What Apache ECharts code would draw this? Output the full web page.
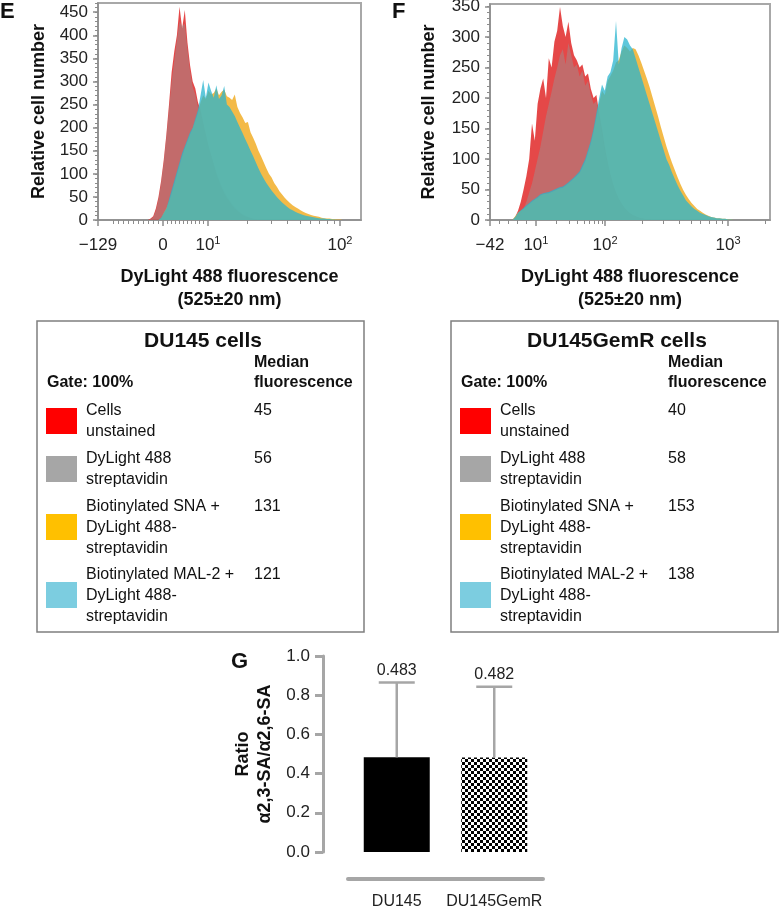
<!DOCTYPE html>
<html><head><meta charset="utf-8">
<script src="https://cdn.jsdelivr.net/npm/echarts@6/dist/echarts.min.js"></script>
<style>html,body{margin:0;padding:0;background:#fff}#c{width:779px;height:907px}</style>
</head><body><div id="c"></div>
<script>
// ---------- DATA ----------
// Histogram bins are display channels (0-100 across each plot's x range)
const eTickPos = [0, 24.7, 41.8, 92.0];
const eTickText = ['−129', '0', '10^1', '10^2'];
const fTickPos = [0, 16.4, 41.1, 85.0];
const fTickText = ['−42', '10^1', '10^2', '10^3'];
const eYTicks = [0, 50, 100, 150, 200, 250, 300, 350, 400, 450];
const fYTicks = [0, 50, 100, 150, 200, 250, 300, 350];

// DU145 (panel E)
const eRedStart = 20;
const eRed = [3,8,25,50,85,130,185,250,320,365,400,462,415,455,385,335,300,285,255,238,210,185,160,140,120,100,85,70,58,48,40,32,25,20,15,11,8,6,4,2,1];
const eGrayStart = 20;
const eGray = [2,6,20,45,80,125,180,240,300,345,390,430,420,425,370,322,288,272,245,228,205,182,160,142,122,104,88,74,62,52,43,35,28,22,17,13,10,7,5,3,2,1];
const eOrangeStart = 24;
const eOrange = [3,15,25,40,58,78,98,118,138,155,170,185,198,215,232,255,270,262,280,272,275,285,270,278,282,268,265,260,272,245,232,222,210,212,190,178,165,150,138,125,112,100,92,80,72,62,55,48,42,37,32,28,25,21,18,15,13,11,9,8,7,5,4,3,3,2,2,1,1];
const eCyanStart = 24;
const eCyan = [5,15,25,45,65,85,105,125,145,160,175,190,200,220,238,270,303,265,298,280,265,292,262,270,290,250,245,235,225,212,200,188,175,163,150,138,125,112,100,90,80,72,64,57,50,44,38,33,28,24,21,18,15,13,11,9,8,7,6,5,4,3,3,2,2,1,1];

// DU145GemR (panel F)
const fRedStart = 9;
const fRed = [5,15,30,50,72,100,158,130,190,215,232,200,265,250,292,310,349,318,300,325,290,270,262,250,255,235,240,215,200,205,175,150,120,95,75,58,45,35,27,20,15,11,8,6,4,3,2,1,1];
const fGrayStart = 11;
const fGray = [8,18,30,45,60,80,100,120,145,170,190,210,232,250,270,280,255,290,270,250,255,235,245,220,228,205,190,195,165,140,112,90,72,56,44,34,26,20,15,11,8,6,4,3,2,1];
const fOrangeStart = 9;
const fOrange = [6,12,15,18,22,26,30,33,36,40,42,43,44,46,48,50,52,53,56,60,64,68,72,77,86,96,110,125,145,168,192,212,205,228,236,245,258,262,276,286,282,276,282,280,270,258,245,232,218,202,186,170,153,137,121,107,94,82,70,59,49,41,34,28,23,18,15,12,9,7,5,4,3,3,2,2,1,1];
const fCyanStart = 9;
const fCyan = [5,12,16,20,24,28,32,35,38,42,44,45,46,48,50,52,54,55,58,62,66,70,75,80,90,100,115,130,150,175,200,222,212,235,242,262,326,255,282,300,296,286,280,265,250,235,220,205,190,175,160,145,130,115,100,90,78,67,57,48,40,32,27,22,18,15,12,10,8,6,5,4,3,3,2,2,1,1];

// Legend tables
const legendLabels = [['Cells','unstained'], ['DyLight 488','streptavidin'], ['Biotinylated SNA +','DyLight 488-','streptavidin'], ['Biotinylated MAL-2 +','DyLight 488-','streptavidin']];
const mediansE = [45, 56, 131, 121];
const mediansF = [40, 58, 153, 138];

// Panel G
const categoriesG = ['DU145', 'DU145GemR'];
const ratioMeans = [0.483, 0.482];
const ratioErr = [0.382, 0.361];

// ---------- STYLE ----------
const FONT = '"Liberation Sans", Arial, Helvetica, sans-serif';
const swatchColors = ['#ff0000', '#a6a6a6', '#ffc000', '#7ccde0'];
const histColors = {
  red: 'rgba(225,40,40,0.85)',
  gray: 'rgba(150,150,150,0.45)',
  orange: 'rgba(242,178,52,0.9)',
  cyan: 'rgba(40,180,207,0.75)'
};

function hist(start, vals) {
  const d = [[start - 1, 0]];
  vals.forEach((v, i) => d.push([start + i, v]));
  d.push([start + vals.length, 0]);
  return d;
}
function tickFormatter(pos, text) {
  return function (v) {
    let best = 0;
    for (let i = 1; i < pos.length; i++) if (Math.abs(pos[i] - v) < Math.abs(pos[best] - v)) best = i;
    const t = text[best];
    if (t.indexOf('^') >= 0) { const p = t.split('^'); return '{b|' + p[0] + '}{s|' + p[1] + '}'; }
    return '{b|' + t + '}';
  };
}
const tickRich = {
  b: { fontSize: 17, fontFamily: FONT, color: '#222', lineHeight: 20 },
  s: { fontSize: 11, fontFamily: FONT, color: '#222', verticalAlign: 'top', lineHeight: 12 }
};

// minor tick positions
const eMinor = [];
for (let k = 1; k <= 10; k++) eMinor.push(eTickPos[1] - k * 1.9);
for (let k = 1; k <= 10; k++) eMinor.push(eTickPos[1] + k * 1.55);
for (let k = 2; k <= 9; k++) eMinor.push(eTickPos[2] + Math.log10(k) * (eTickPos[3] - eTickPos[2]));
const fMinor = [];
for (let k = 1; k <= 4; k++) fMinor.push(fTickPos[1] * k / 5);
for (let k = 2; k <= 9; k++) fMinor.push(fTickPos[1] + Math.log10(k) * (fTickPos[2] - fTickPos[1]));
for (let k = 2; k <= 9; k++) fMinor.push(fTickPos[2] + Math.log10(k) * (fTickPos[3] - fTickPos[2]));
fMinor.push(fTickPos[3] + Math.log10(2) * (fTickPos[3] - fTickPos[2]));
const eYMinor = []; for (let v = 0; v <= 470; v += 10) eYMinor.push(v);
const fYMinor = []; for (let v = 0; v <= 350; v += 10) fYMinor.push(v);

const axisGray = '#8c8c8c';
function histX(grid, pos, text) {
  return [
    { gridIndex: grid, type: 'value', min: 0, max: 100, position: 'bottom',
      axisLine: { onZero: false, lineStyle: { color: axisGray, width: 1.5 } },
      axisTick: { customValues: pos, length: 6, lineStyle: { color: axisGray, width: 1.5 } },
      axisLabel: { customValues: pos, formatter: tickFormatter(pos, text), rich: tickRich, margin: 15 },
      splitLine: { show: false },
      name: 'DyLight 488 fluorescence\n(525±20 nm)', nameLocation: 'middle', nameGap: 46,
      nameTextStyle: { fontFamily: FONT, fontWeight: 'bold', fontSize: 18, lineHeight: 23, color: '#111' } },
    { gridIndex: grid, type: 'value', min: 0, max: 100, position: 'bottom',
      axisLine: { show: false, onZero: false },
      axisTick: { customValues: grid === 0 ? eMinor : fMinor, length: 4, lineStyle: { color: axisGray, width: 1 } },
      axisLabel: { show: false }, splitLine: { show: false } }
  ];
}
function histY(grid, max, ticks, minor, gap) {
  return [
    { gridIndex: grid, type: 'value', min: 0, max: max, position: 'left',
      axisLine: { show: true, onZero: false, lineStyle: { color: axisGray, width: 1.5 } },
      axisTick: { show: true, customValues: ticks, length: 5, lineStyle: { color: axisGray, width: 1.5 } },
      axisLabel: { customValues: ticks, margin: 10, fontSize: 17, fontFamily: FONT, color: '#222' },
      splitLine: { show: false },
      name: 'Relative cell number', nameLocation: 'middle', nameGap: gap, nameRotate: 90,
      nameTextStyle: { fontFamily: FONT, fontWeight: 'bold', fontSize: 18, color: '#111' } },
    { gridIndex: grid, type: 'value', min: 0, max: max, position: 'left',
      axisLine: { show: false, onZero: false },
      axisTick: { show: true, customValues: minor, length: 3, lineStyle: { color: axisGray, width: 1 } },
      axisLabel: { show: false }, splitLine: { show: false } }
  ];
}
function areaSeries(xi, yi, data, color) {
  return { type: 'line', xAxisIndex: xi, yAxisIndex: yi, data: data, symbol: 'none', showSymbol: false,
    lineStyle: { width: 0 }, areaStyle: { color: color, opacity: 1 }, silent: true, animation: false };
}

// checker pattern for DU145GemR bar
const pc = document.createElement('canvas'); pc.width = 6; pc.height = 6;
const pctx = pc.getContext('2d');
pctx.fillStyle = '#fff'; pctx.fillRect(0, 0, 6, 6);
pctx.fillStyle = '#000'; pctx.fillRect(0, 0, 3, 3); pctx.fillRect(3, 3, 3, 3);

// legend graphics
function txt(x, y, text, size, bold, align) {
  return { type: 'text', x: x, y: y, style: { text: String(text), fontSize: size, fontWeight: bold ? 'bold' : 'normal', fontFamily: FONT, fill: '#111',
    align: align || 'left', verticalAlign: 'middle', textAlign: align || 'left', textVerticalAlign: 'middle' } };
}
function legendBox(x0, title, medians) {
  const y0 = 321;
  const els = [{ type: 'rect', shape: { x: x0, y: y0, width: 327, height: 311 }, style: { fill: 'none', stroke: '#7f7f7f', lineWidth: 1.5 } }];
  els.push(txt(x0 + 166, y0 + 20, title, 21, true, 'center'));
  els.push(txt(x0 + 217, y0 + 42, 'Median', 16, true));
  els.push(txt(x0 + 217, y0 + 62, 'fluorescence', 16, true));
  els.push(txt(x0 + 10, y0 + 62, 'Gate: 100%', 16, true));
  const rowY = [90, 138, 186, 254];
  const swY = [87, 135, 193, 261];
  legendLabels.forEach((lines, i) => {
    els.push({ type: 'rect', shape: { x: x0 + 9, y: y0 + swY[i], width: 31, height: 26 }, style: { fill: swatchColors[i] } });
    lines.forEach((l, j) => els.push(txt(x0 + 49, y0 + rowY[i] + j * 21, l, 16, false)));
    els.push(txt(x0 + 217, y0 + rowY[i], medians[i], 16, false));
  });
  return els;
}

const graphics = [].concat(
  [txt(0, 12, 'E', 22, true), txt(392, 12, 'F', 22, true), txt(231, 662, 'G', 22, true)],
  legendBox(37, 'DU145 cells', mediansE),
  legendBox(451, 'DU145GemR cells', mediansF)
);

const gGray = '#a6a6a6';
const option = {
  animation: false,
  backgroundColor: '#fff',
  textStyle: { fontFamily: FONT },
  grid: [
    { left: 98, top: 3, width: 263, height: 217, show: true, borderColor: '#a8a8a8', borderWidth: 2, outerBoundsMode: 'none', containLabel: false },
    { left: 490, top: 4, width: 280, height: 216, show: true, borderColor: '#a8a8a8', borderWidth: 2, outerBoundsMode: 'none', containLabel: false },
    { left: 348, top: 656, width: 195, height: 196, outerBoundsMode: 'none', containLabel: false }
  ],
  xAxis: [].concat(histX(0, eTickPos, eTickText), histX(1, fTickPos, fTickText), [
    { gridIndex: 2, type: 'category', data: categoriesG, offset: 27,
      axisLine: { onZero: false, lineStyle: { color: gGray, width: 4 } },
      axisTick: { alignWithLabel: true, length: 8, lineStyle: { color: gGray, width: 3 } },
      axisLabel: { interval: 0, fontSize: 16, fontFamily: FONT, color: '#222', margin: 15 } }
  ]),
  yAxis: [].concat(histY(0, 470, eYTicks, eYMinor, 50), histY(1, 354, fYTicks, fYMinor, 52), [
    { gridIndex: 2, type: 'value', min: 0, max: 1, interval: 0.2, offset: 25,
      axisLine: { show: true, onZero: false, lineStyle: { color: gGray, width: 3 } },
      axisTick: { show: true, length: 8, lineStyle: { color: gGray, width: 3 } },
      axisLabel: { formatter: v => v.toFixed(1), fontSize: 17, fontFamily: FONT, color: '#222', margin: 13 },
      splitLine: { show: false },
      name: 'Ratio\nα2,3-SA/α2,6-SA', nameLocation: 'middle', nameRotate: 90, nameGap: 47,
      nameTextStyle: { fontFamily: FONT, fontWeight: 'bold', fontSize: 18, lineHeight: 22, color: '#111' } }
  ]),
  series: [
    areaSeries(0, 0, hist(eRedStart, eRed), histColors.red),
    areaSeries(0, 0, hist(eGrayStart, eGray), histColors.gray),
    areaSeries(0, 0, hist(eOrangeStart, eOrange), histColors.orange),
    areaSeries(0, 0, hist(eCyanStart, eCyan), histColors.cyan),
    areaSeries(2, 2, hist(fRedStart, fRed), histColors.red),
    areaSeries(2, 2, hist(fGrayStart, fGray), histColors.gray),
    areaSeries(2, 2, hist(fOrangeStart, fOrange), histColors.orange),
    areaSeries(2, 2, hist(fCyanStart, fCyan), histColors.cyan),
    { type: 'bar', xAxisIndex: 4, yAxisIndex: 4, barWidth: 66,
      data: [ { value: ratioMeans[0], itemStyle: { color: '#000' } },
              { value: ratioMeans[1], itemStyle: { color: { image: pc, repeat: 'repeat' } } } ] },
    { type: 'custom', xAxisIndex: 4, yAxisIndex: 4, z: 5,
      data: categoriesG.map((c, i) => [i, ratioMeans[i], ratioMeans[i] + ratioErr[i]]),
      renderItem: function (params, api) {
        const m = api.coord([api.value(0), api.value(1)]);
        const t = api.coord([api.value(0), api.value(2)]);
        return { type: 'group', children: [
          { type: 'line', shape: { x1: m[0], y1: m[1], x2: t[0], y2: t[1] }, style: { stroke: gGray, lineWidth: 2.5 } },
          { type: 'line', shape: { x1: t[0] - 18, y1: t[1], x2: t[0] + 18, y2: t[1] }, style: { stroke: gGray, lineWidth: 2.5 } },
          { type: 'text', x: t[0], y: t[1] - 12, style: { text: ratioMeans[params.dataIndex].toFixed(3), fontSize: 16, fontFamily: FONT, fill: '#222',
              align: 'center', verticalAlign: 'middle', textAlign: 'center', textVerticalAlign: 'middle' } }
        ] };
      } }
  ],
  graphic: graphics
};
const chart = echarts.init(document.getElementById('c'), null, { renderer: 'canvas' });
chart.setOption(option);
</script></body></html>
